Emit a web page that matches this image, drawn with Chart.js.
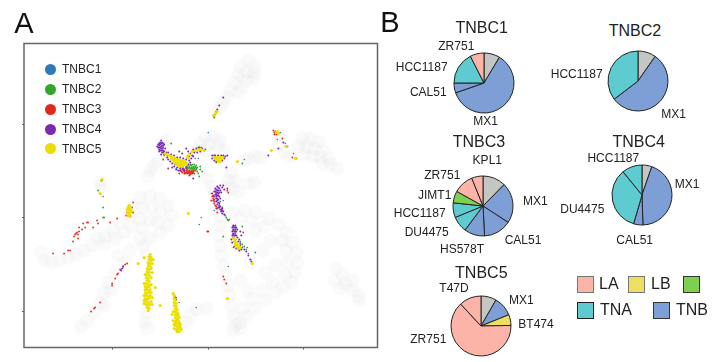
<!DOCTYPE html>
<html>
<head>
<meta charset="utf-8">
<script src="https://cdn.jsdelivr.net/npm/chart.js@4"></script>
<style>
  html, body { margin: 0; padding: 0; background: #fff; }
  #page { position: relative; width: 720px; height: 362px; overflow: hidden; font-family: "Liberation Sans", Arial, sans-serif; color: #222; }
  canvas { position: absolute; }
  .txt { position: absolute; transform: translate(-50%, -50%); white-space: nowrap; font-size: 12px; line-height: 1; }
  .title { font-size: 16px; }
  .letter { font-size: 29px; color: #111; }
  .dot { position: absolute; width: 11px; height: 11px; border-radius: 50%; }
  .swatch { position: absolute; width: 15px; height: 15px; border: 1px solid #333; }
  .lg { position: absolute; font-size: 16px; line-height: 1; transform: translateY(-50%); }
</style>
</head>
<body>
<div id="page">
  <canvas id="umap" width="390" height="362" style="left:0;top:0"></canvas>
</div>
<script>
"use strict";
// embedding values, arbitrary units
const xTicks = [88, 184, 279];
const yTicks = [36, 130, 223];

const background = [
  [224,287],[230,281],[216,281],[222,275],[230,275],[214,273],[222,267],[229,269],[210,265],[218,261],[206,257],[214,255],[202,250],[198,244],[195,239],
  [278,209],[286,209],[294,206],[274,201],[282,201],[290,199],[298,197],[280,193],[288,191],[296,190],[304,189],[298,184],[306,183],[313,179],
  [254,212],[255,202],[259,195],[266,191],
  [181,210],[189,211],[196,207],[176,204],[185,203],[194,201],[200,197],[172,197],[182,197],[142,207],[138,204],
  [134,187],[130,182],[126,177],[123,171],
  [207,175],[211,167],[204,167],[200,160],[208,159],[214,156],[183,169],[187,161],[190,155],
  [224,189],[231,191],[236,190],[220,187],[224,164],[230,165],
  [196,132],[195,122],[195,112],[196,102],[197,92],[199,82],[201,72],[203,62],[205,52],[207,42],[209,32],[211,22],[208,17],[216,19],
  [208,135],[221,137],[232,135],[244,129],[254,123],[216,129],[228,127],[240,121],
  [262,115],[268,105],[272,95],[273,85],[271,75],[258,107],[262,97],[263,85],[261,73],
  [267,65],[259,61],[251,55],[241,47],[231,39],[222,31],[216,25],[248,65],[238,57],[228,49],[219,39],[251,82],[241,75],[246,107],[231,117],[238,97],[226,85],[216,67],[224,57],
  [116,150],[126,152],[136,149],[144,142],[147,132],[144,122],[136,115],[126,109],[116,109],[108,142],[106,132],[118,140],[128,140],[136,135],[116,129],[126,127],[134,125],[108,121],[118,119],
  [96,125],[100,115],[88,117],[91,109],[81,111],[74,109],[80,103],[68,102],[60,97],[52,93],[44,90],[36,87],[28,85],[21,87],[17,95],
  [119,102],[122,92],[122,47],[122,35],[121,25],[123,19],
  [101,85],[91,75],[84,65],[80,55],[76,45],[70,35],[63,27],[57,21],[86,57],[80,42],[106,97],[94,92],
  [162,25],[166,33],[173,38],[182,39],
  [311,79],[318,73],[310,67],[321,64],[328,67],[316,59],[328,57],[334,52],[335,47],
  [76,165],[77,160]
];
const tnbc1 = [
  [184,215],[177,130],[175,123],[220,188],[256,215],[261,204],[261,201],[253,208],[269,194],[174,189],[171,189],
  [79,151],[204,81],[172,40],[155,45],[154,34],[152,50],[187,154],[190,137],[199,147],[208,105],[209,100],[223,100],[224,94],[213,100],
  [156,180],[152,179],[159,181],[140,192]
];
const tnbc2 = [
  [163,182],[165,181],[167,182],[169,181],[171,181],[164,179],[166,179],[168,179],[170,179],[172,179],[168,177],[171,177],[173,176],
  [162,181],[164,183],[166,183],[168,183],[170,183],[172,182],[163,180],[165,180],[167,180],[169,180],[171,180],[173,180],[167,178],[169,178],[172,178],
  [174,200],[177,200],[147,204],[176,178],[176,181],[178,176],[174,174],[175,171],[192,185],
  [201,132],[202,130],[203,128],[204,127],[205,128],[198,140],[196,146],[192,153],
  [216,102],[218,103],[220,101],[216,106],[222,98],[214,99],[218,121],[231,95],[199,111],
  [79,140],[80,130],[79,130],[74,157],[77,167],[78,167],[218,184],[190,230],[189,232]
];
const tnbc3 = [
  [156,177],[158,178],[160,176],[162,177],[164,176],[166,176],[168,175],[160,174],[163,174],[165,174],[167,174],[169,176],[162,179],[158,175],[170,174],[165,172],
  [157,176],[159,177],[161,175],[163,176],[165,175],[167,176],[169,175],[162,175],[164,175],[166,175],[168,174],[160,178],[163,178],[165,177],
  [144,179],[155,174],[161,174],[166,173],[139,188],[170,177],
  [188,154],[188,151],[189,149],[189,147],[190,146],[190,144],[191,142],[192,141],[193,139],[192,139],[189,152],[190,148],
  [187,147],[203,157],[204,155],[203,159],[184,116],[193,135],
  [249,217],[250,215],[251,216],[250,213],[252,213],[268,190],[258,209],
  [63,125],[59,124],[64,125],[73,127],[74,124],[86,125],[93,129],[69,120],[61,120],[58,118],[55,120],[53,115],[52,114],[50,111],[54,109],[49,106],[44,97],[46,97],[40,94],[29,94],[51,113],[55,116],[54,113],
  [109,145],[108,140],[109,135],[102,132],[106,132],[105,141],[103,135],
  [103,84],[101,83],[99,81],[96,78],[94,74],[93,73],[91,69],[88,64],[88,62],[76,45],[71,40],[70,39],[67,36],
  [199,71],[200,68],[202,64],[183,116],[150,51],[152,48],[219,115]
];
const tnbc4 = [
  [136,205],[138,205],[134,203],[136,203],[138,202],[140,203],[134,200],[136,200],[138,199],[135,198],[137,197],[139,197],[138,195],[140,196],[142,195],
  [133,201],[137,207],[139,200],[141,199],[135,196],[137,193],[140,193],[143,190],[146,186],[144,188],[148,184],[151,183],
  [135,204],[137,204],[139,204],[135,202],[137,201],[139,202],[135,200],[137,199],[136,197],[138,197],[139,195],[141,194],[143,192],
  [144,195],[147,193],[150,192],[153,190],[156,190],[159,189],[162,188],[165,187],[167,189],[168,192],[165,191],
  [150,181],[153,180],[156,179],[159,179],[162,180],[152,178],[156,177],[160,177],[148,180],[154,177],[158,180],[164,183],[166,185],
  [166,194],[169,198],[172,199],[175,200],[178,199],[181,198],[170,195],[173,195],[176,196],[164,196],[155,196],[158,194],[162,199],[169,191],[169,169],[202,180],
  [188,192],[191,192],[194,192],[197,192],[199,192],[188,189],[200,189],[201,191],[203,192],[190,187],[192,186],[198,187],[190,192],
  [199,250],[195,242],[193,238],[192,236],[191,233],[190,231],
  [263,201],[259,205],[254,199],[244,192],[272,189],
  [196,162],[193,161],[195,159],[198,160],[191,159],[193,157],[196,157],[190,156],[192,155],[194,154],[197,155],[191,153],[193,152],[195,151],[190,151],[192,149],[194,148],[196,149],[199,162],[200,158],
  [194,160],[192,158],[194,157],[191,156],[193,155],[195,155],[192,153],[194,152],[192,151],[193,149],
  [192,146],[194,145],[193,143],[195,142],[194,140],[196,141],[196,138],[198,139],[197,136],[199,136],[198,134],[200,133],
  [193,147],[195,144],[195,140],[197,138],[198,137],
  [209,122],[211,122],[208,120],[210,120],[212,120],[209,118],[211,118],[213,118],[208,116],[210,116],[212,116],[209,114],[211,114],[208,112],[210,112],[212,112],[209,110],[213,110],[215,108],[217,112],[216,104],[218,100],[220,98],[222,96],[224,92],[226,88],[227,86],[214,106],[216,116],
  [207,108],[208,105],[210,101],[212,99],[215,97],[217,98],[209,121],[211,120],[209,117],[211,116],[209,113],[211,112],
  [98,79],[99,81],[97,77],[151,50]
];
const tnbc5 = [
  [126,93],[125,91],[127,90],[125,88],[127,87],[124,85],[126,84],[124,82],[126,81],[123,79],[125,78],[127,79],[123,76],[125,75],[123,73],[125,72],[122,70],[124,69],[123,67],[125,66],[122,64],[124,63],[121,61],[123,60],[125,61],[122,58],[124,57],[121,55],[123,54],[125,55],[122,52],[124,51],[126,52],[121,49],[123,48],[125,49],[122,46],[124,45],[127,46],[122,43],[124,42],[126,43],[123,40],[125,39],[124,37],
  [120,52],[127,55],[128,50],[120,47],[128,43],[120,44],[121,58],[126,58],[127,63],[120,64],[127,70],[121,73],[128,75],[129,88],[128,84],
  [149,54],[150,52],[150,49],[151,47],[150,45],[152,44],[150,42],[152,41],[151,39],[153,38],[151,36],[153,35],[151,33],[153,32],[151,30],[153,29],[152,27],[154,27],[151,25],[153,24],[155,25],[151,22],[153,21],[155,22],[150,19],[152,18],[154,19],[156,20],[153,16],[155,16],
  [157,18],[150,23],[156,23],[149,27],[155,30],[154,33],[149,36],
  [141,194],[143,193],[145,192],[147,191],[149,190],[151,189],[148,188],[150,187],[152,188],[154,188],[156,187],[158,187],[160,187],[150,185],[152,185],[154,185],[156,185],[158,185],[160,185],[162,185],[152,183],[154,183],[156,183],[158,183],[160,183],[162,183],[155,181],[158,181],[147,189],[164,190],
  [168,196],[171,197],[174,198],[177,198],[180,197],[165,193],[163,191],
  [190,190],[192,190],[194,190],[196,190],[198,190],[192,188],[194,188],[196,188],[194,186],[196,186],
  [191,234],[190,232],[193,236],[252,215],[254,214],[253,216],[262,201],[271,189],[247,197],[213,186],[164,134],
  [209,109],[211,108],[210,106],[212,105],[211,103],[213,103],[212,101],[214,101],[216,100],[214,99],
  [228,84],[203,49],[114,84],[76,154],[78,168],
  [105,142],[104,140],[106,140],[103,138],[105,138],[107,137],[104,135],[106,135],[105,133],[106,131],[104,132],
  [136,42],[131,60],[120,90],[148,33]
];

// pie shares in percent, clockwise from twelve o'clock
const pie1Labels = ["", "MX1", "CAL51", "HCC1187", "ZR751"];
const pie1Types = ["none", "TNB", "TNB", "TNA", "LA"];
const pie1Values = [8.6, 61.1, 5.3, 17.5, 7.5];
const pie2Labels = ["", "MX1", "HCC1187"];
const pie2Types = ["none", "TNB", "TNA"];
const pie2Values = [9.7, 54.9, 35.4];
const pie3Labels = ["", "MX1", "CAL51", "HS578T", "DU4475", "HCC1187", "JIMT1", "ZR751", "KPL1"];
const pie3Types = ["none", "TNB", "TNB", "TNB", "TNA", "TNA", "HER2", "LA", "LA"];
const pie3Values = [12.4, 21.8, 15, 11, 8.6, 7.9, 6.4, 10.8, 6.1];
const pie4Labels = ["", "MX1", "CAL51", "DU4475", "HCC1187"];
const pie4Types = ["none", "TNB", "TNB", "TNA", "TNA"];
const pie4Values = [5.3, 44.2, 5, 34.6, 10.9];
const pie5Labels = ["", "MX1", "BT474", "ZR751", "T47D"];
const pie5Types = ["none", "TNB", "LB", "LA", "LA"];
const pie5Values = [8.3, 10.6, 5.8, 63.4, 11.9];

const typeColors = { none: "#c4c6c4", LA: "#fdb4a8", LB: "#ecdf62", HER2: "#7fd04e", TNA: "#5dcbd0", TNB: "#7e9ed6" };
const page = document.getElementById("page");

function addText(str, x, y, cls) {
  const el = document.createElement("div");
  el.className = "txt " + (cls || "");
  el.textContent = str;
  el.style.left = x + "px";
  el.style.top = y + "px";
  page.appendChild(el);
}

function toPoints(list) {
  return list.map(function (p) {
    return { x: p[0], y: p[1] };
  });
}

function cloud(label, list, color, radius, order) {
  return { label: label, data: toPoints(list), backgroundColor: color, pointRadius: radius, pointBorderWidth: 0, order: order };
}

const frame = {
  id: "frame",
  afterDraw(chart) {
    const a = chart.chartArea;
    chart.ctx.save();
    chart.ctx.strokeStyle = "#666";
    chart.ctx.lineWidth = 1.5;
    chart.ctx.strokeRect(a.left, a.top, a.width, a.height);
    chart.ctx.restore();
  },
};

function axis(min, max, ticks, pos) {
  return {
    type: "linear",
    position: pos,
    min: min,
    max: max,
    border: { display: false },
    grid: { drawOnChartArea: false, drawTicks: true, tickLength: 2, tickColor: "#555" },
    ticks: { display: false },
    afterBuildTicks: function (scale) {
      scale.ticks = ticks.map(function (v) {
        return { value: v };
      });
    },
  };
}

new Chart(document.getElementById("umap"), {
  type: "scatter",
  data: {
    datasets: [
      cloud("TNBC5", tnbc5, "#ecdf00", 1.6, 1),
      cloud("TNBC4", tnbc4, "#7b2ab0", 1, 2),
      cloud("TNBC3", tnbc3, "#e0291c", 0.9, 3),
      cloud("TNBC2", tnbc2, "#2fa82a", 0.9, 4),
      cloud("TNBC1", tnbc1, "#2f7ab8", 0.8, 5),
      cloud("all cells", background, "rgba(185,185,185,0.07)", 7, 6),
    ],
  },
  options: {
    responsive: false,
    animation: false,
    layout: { padding: { left: 22, top: 43.5, right: 12.5, bottom: 12.5 } },
    plugins: { legend: { display: false }, tooltip: { enabled: false } },
    scales: {
      x: axis(0, 353, xTicks, "bottom"),
      y: axis(0, 304, yTicks, "left"),
    },
  },
  plugins: [frame],
});

function drawPie(id, cx, cy, labels, types, values) {
  const c = document.createElement("canvas");
  c.id = id;
  c.width = 70;
  c.height = 70;
  c.style.left = cx - 35 + "px";
  c.style.top = cy - 35 + "px";
  page.appendChild(c);
  new Chart(c, {
    type: "pie",
    data: {
      labels: labels,
      datasets: [
        {
          data: values,
          backgroundColor: types.map(function (t) {
            return typeColors[t];
          }),
          borderColor: "#222",
          borderWidth: 1,
          radius: 30,
        },
      ],
    },
    options: {
      responsive: false,
      animation: false,
      layout: { padding: 0 },
      plugins: { legend: { display: false }, tooltip: { enabled: false } },
    },
  });
}

drawPie("pie1", 483.7, 83, pie1Labels, pie1Types, pie1Values);
drawPie("pie2", 638, 81.3, pie2Labels, pie2Types, pie2Values);
drawPie("pie3", 483.3, 206, pie3Labels, pie3Types, pie3Values);
drawPie("pie4", 641.7, 195, pie4Labels, pie4Types, pie4Values);
drawPie("pie5", 481.3, 326.3, pie5Labels, pie5Types, pie5Values);

addText("A", 24, 23, "letter");
addText("B", 390, 22, "letter");

addText("TNBC1", 481.7, 28.3, "title");
addText("ZR751", 456.3, 45.7);
addText("HCC1187", 421.7, 67);
addText("CAL51", 428.3, 91.7);
addText("MX1", 485.7, 121.3);

addText("TNBC2", 635, 31, "title");
addText("HCC1187", 576.7, 73.7);
addText("MX1", 673.7, 113.7);

addText("TNBC3", 479, 142.3, "title");
addText("KPL1", 487.3, 160);
addText("ZR751", 442.3, 174.7);
addText("JIMT1", 434.7, 194.7);
addText("HCC1187", 419.7, 213);
addText("DU4475", 426.7, 231.7);
addText("HS578T", 462, 249);
addText("MX1", 535.3, 201.3);
addText("CAL51", 523, 239.7);

addText("TNBC4", 638.7, 141.7, "title");
addText("HCC1187", 613.3, 157.7);
addText("MX1", 687, 183.7);
addText("DU4475", 582.3, 209.3);
addText("CAL51", 634.7, 239.7);

addText("TNBC5", 481.3, 273.3, "title");
addText("T47D", 454, 288.3);
addText("MX1", 521.3, 299.7);
addText("BT474", 536, 323.7);
addText("ZR751", 428.3, 338.7);

// legend of panel A
const umapNames = ["TNBC1", "TNBC2", "TNBC3", "TNBC4", "TNBC5"];
const umapColors = ["#2f7ab8", "#2fa82a", "#e0291c", "#7b2ab0", "#ecdf00"];
const umapRows = [69.3, 89.3, 109.3, 129.3, 148.5];
umapNames.forEach(function (name, i) {
  const d = document.createElement("div");
  d.className = "dot";
  d.style.left = "45px";
  d.style.top = umapRows[i] - 5.5 + "px";
  d.style.background = umapColors[i];
  page.appendChild(d);
  const t = document.createElement("div");
  t.className = "lg";
  t.style.fontSize = "12px";
  t.style.left = "62px";
  t.style.top = umapRows[i] + "px";
  t.textContent = name;
  page.appendChild(t);
});

// legend of cell types
function addSwatch(type, x, y, edge) {
  const s = document.createElement("div");
  s.className = "swatch";
  s.style.left = x + "px";
  s.style.top = y + "px";
  s.style.background = typeColors[type];
  s.style.borderColor = edge;
  page.appendChild(s);
}
function addLegendText(str, x, y) {
  const t = document.createElement("div");
  t.className = "lg";
  t.style.left = x + "px";
  t.style.top = y + "px";
  t.textContent = str;
  page.appendChild(t);
}
addSwatch("LA", 577, 276, "#777");
addLegendText("LA", 599, 284);
addSwatch("LB", 628, 276, "#777");
addLegendText("LB", 651, 284);
addSwatch("HER2", 683, 276, "#333");
addSwatch("TNA", 577, 302, "#222");
addLegendText("TNA", 600, 310);
addSwatch("TNB", 653, 302, "#333");
addLegendText("TNB", 676, 310);
</script>
</body>
</html>
